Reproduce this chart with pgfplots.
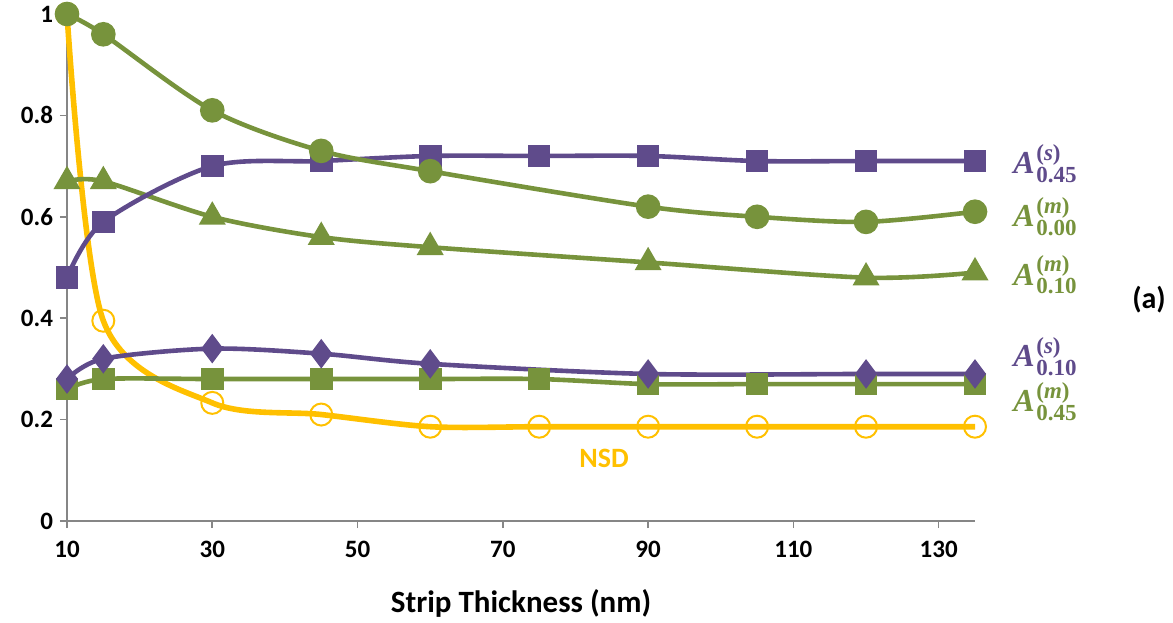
\documentclass[border=0pt]{standalone}
\usepackage{fontspec}
\setmainfont{Carlito}
\newfontfamily\labfont{Liberation Serif}
\usepackage{pgfplots}
\pgfplotsset{compat=1.18}
\definecolor{cpurple}{RGB}{95,75,139}
\definecolor{cgreen}{RGB}{119,147,60}
\definecolor{cyellow}{RGB}{255,192,0}
\definecolor{caxis}{RGB}{134,134,134}
\newcommand{\lab}[2]{{\labfont\bfseries\itshape\fontsize{16}{18}\selectfont A}\kern0.8pt{\labfont\bfseries\fontsize{11.5}{12}\selectfont\rlap{\raisebox{6.5pt}{(\textit{#1})}}\raisebox{-4.5pt}{#2}}}
\begin{document}
\begin{tikzpicture}
\path[use as bounding box] (-33.5pt,-50.5pt) rectangle (553pt,260.5pt);
\begin{axis}[
  at={(0pt,0pt)}, anchor=south west,
  scale only axis, width=454pt, height=253.5pt,
  xmin=10, xmax=135, ymin=0, ymax=1,
  axis lines=left, axis line style={-, draw=caxis, line width=0.8pt},
  xtick={10,30,50,70,90,110,130},
  ytick={0,0.2,0.4,0.6,0.8,1},
  yticklabels={0,0.2,0.4,0.6,0.8,1},
  tick style={draw=caxis, line width=0.8pt},
  tick align=outside, major tick length=3.5pt,
  /pgf/number format/assume math mode=true,
  ticklabel style={font=\bfseries\fontsize{12.5}{14}\selectfont, text=black},
  xticklabel style={yshift=-3pt},
  xlabel={Strip Thickness (nm)},
  xlabel style={font=\bfseries\fontsize{15.5}{18}\selectfont, yshift=-9pt},
  clip=false,
]
\addplot[smooth, tension=0.5, cyellow, line width=2.8pt, mark=o, mark size=5.5pt, mark options={line width=1pt, fill=white}] coordinates {
(10,1.0) (15,0.395) (30,0.233) (45,0.21) (60,0.186) (75,0.186) (90,0.186) (105,0.186) (120,0.186) (135,0.186)};
\addplot[smooth, tension=0.5, cgreen, line width=2.3pt, mark=square*, mark size=4.5pt] coordinates {
(10,0.26) (15,0.28) (30,0.28) (45,0.28) (60,0.28) (75,0.28) (90,0.27) (105,0.27) (120,0.27) (135,0.27)};
\addplot[smooth, tension=0.5, cpurple, line width=2.3pt, mark=diamond*, mark size=5.5pt] coordinates {
(10,0.28) (15,0.32) (30,0.34) (45,0.33) (60,0.31) (90,0.29) (120,0.29) (135,0.29)};
\addplot[smooth, tension=0.5, cgreen, line width=2.3pt, mark=triangle*, mark size=5.5pt] coordinates {
(10,0.67) (15,0.67) (30,0.60) (45,0.56) (60,0.54) (90,0.51) (120,0.48) (135,0.49)};
\addplot[smooth, tension=0.5, cpurple, line width=2.3pt, mark=square*, mark size=4.5pt] coordinates {
(10,0.48) (15,0.59) (30,0.70) (45,0.71) (60,0.72) (75,0.72) (90,0.72) (105,0.71) (120,0.71) (135,0.71)};
\addplot[smooth, tension=0.5, cgreen, line width=2.3pt, mark=*, mark size=5pt] coordinates {
(10,1.0) (15,0.96) (30,0.81) (45,0.73) (60,0.69) (90,0.62) (105,0.60) (120,0.59) (135,0.61)};
\end{axis}
\node[anchor=base west, inner sep=0pt, text=cpurple] at (473pt,173.5pt) {\lab{s}{0.45}};
\node[anchor=base west, inner sep=0pt, text=cgreen] at (473pt,147pt) {\lab{m}{0.00}};
\node[anchor=base west, inner sep=0pt, text=cgreen] at (473pt,118pt) {\lab{m}{0.10}};
\node[anchor=base west, inner sep=0pt, text=cpurple] at (473pt,77.5pt) {\lab{s}{0.10}};
\node[anchor=base west, inner sep=0pt, text=cgreen] at (473pt,55pt) {\lab{m}{0.45}};
\node[text=cyellow, font=\bfseries\fontsize{14}{16}\selectfont] at (268.5pt,31.5pt) {NSD};
\node[font=\bfseries\fontsize{15}{17}\selectfont] at (541pt,110.5pt) {(a)};
\end{tikzpicture}
\end{document}
